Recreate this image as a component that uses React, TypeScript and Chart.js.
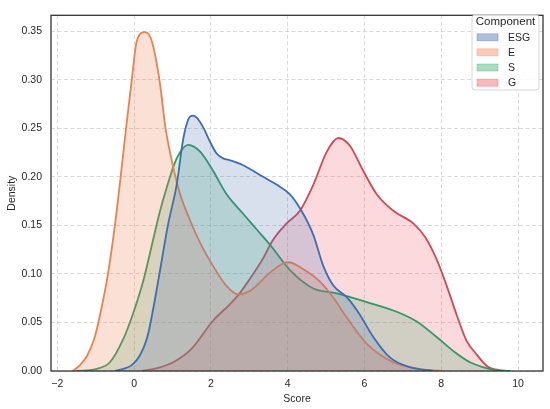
import React, { useEffect, useRef } from "react";
import { Chart, registerables } from "chart.js";

Chart.register(...registerables);

const seriesNames = ["ESG", "E", "S", "G"];

const esgX = [-0.5, -0.3, -0.06, 0.15, 0.33, 0.43, 0.66, 0.88, 1.11, 1.28, 1.41, 1.53, 1.63, 1.8, 1.98, 2.15, 2.32, 2.5, 2.84, 3.36, 3.71, 4.06, 4.36, 4.67, 4.93, 5.19, 5.54, 5.88, 6.23, 6.66, 7.18, 7.8];
const esgY = [0, 0.002, 0.006, 0.016, 0.033, 0.05, 0.1, 0.15, 0.192, 0.239, 0.259, 0.263, 0.261, 0.251, 0.236, 0.224, 0.219, 0.217, 0.212, 0.2, 0.192, 0.182, 0.165, 0.14, 0.108, 0.088, 0.076, 0.058, 0.035, 0.014, 0.004, 0];

const eX = [-1.6, -1.41, -1.22, -1.04, -0.93, -0.68, -0.5, -0.35, -0.21, -0.06, 0.07, 0.28, 0.46, 0.66, 0.82, 1.02, 1.2, 1.46, 1.72, 2.06, 2.4, 2.71, 3.0, 3.19, 3.5, 3.89, 4.02, 4.4, 4.84, 5.2, 5.54, 6.06, 6.75, 7.45, 8.0];
const eY = [0, 0.006, 0.016, 0.033, 0.05, 0.1, 0.15, 0.2, 0.25, 0.3, 0.34, 0.349, 0.34, 0.3, 0.25, 0.21, 0.182, 0.155, 0.132, 0.108, 0.088, 0.079, 0.082, 0.088, 0.1, 0.111, 0.112, 0.105, 0.092, 0.075, 0.055, 0.028, 0.009, 0.002, 0];

const sX = [-1.5, -1.0, -0.63, -0.28, -0.02, 0.24, 0.5, 0.67, 0.85, 1.11, 1.41, 1.72, 2.06, 2.41, 2.84, 3.19, 3.54, 4.06, 4.67, 5.28, 6.06, 6.84, 7.36, 7.88, 8.4, 8.75, 9.4, 9.8];
const sY = [0, 0.002, 0.009, 0.033, 0.06, 0.093, 0.136, 0.164, 0.189, 0.219, 0.233, 0.226, 0.206, 0.182, 0.162, 0.146, 0.13, 0.104, 0.085, 0.08, 0.071, 0.061, 0.051, 0.035, 0.018, 0.009, 0.001, 0];

const gX = [0.2, 0.6, 1.02, 1.5, 2.06, 2.5, 2.75, 2.93, 3.36, 3.6, 3.97, 4.32, 4.67, 5.02, 5.32, 5.62, 5.97, 6.32, 6.75, 7.27, 7.58, 7.88, 8.14, 8.4, 8.66, 8.88, 9.23, 9.7];
const gY = [0, 0.003, 0.009, 0.023, 0.052, 0.069, 0.08, 0.09, 0.116, 0.134, 0.152, 0.165, 0.192, 0.226, 0.24, 0.232, 0.206, 0.182, 0.165, 0.152, 0.138, 0.115, 0.088, 0.058, 0.031, 0.019, 0.004, 0];

const xTicks = [-2, 0, 2, 4, 6, 8, 10];
const yTicks = [0, 0.05, 0.1, 0.15, 0.2, 0.25, 0.3, 0.35];

const lineColors = ["#3d6fb0", "#e8824f", "#2f9b63", "#cf4a52"];
const fillColors = [
  "rgba(76,114,176,0.22)",
  "rgba(240,130,80,0.24)",
  "rgba(70,170,115,0.24)",
  "rgba(240,80,100,0.22)",
];
const legendColors = [
  "rgba(76,114,176,0.45)",
  "rgba(245,130,85,0.42)",
  "rgba(70,175,115,0.45)",
  "rgba(235,85,100,0.42)",
];

const FONT = "'Liberation Sans', Arial, sans-serif";
const TEXT = "#262626";

function pts(xs: number[], ys: number[]) {
  return xs.map((x, i) => ({ x, y: ys[i] }));
}

const framePlugin = {
  id: "frame",
  afterDraw(chart: any) {
    const { ctx, chartArea } = chart;
    ctx.save();
    ctx.strokeStyle = "#333333";
    ctx.lineWidth = 1.3;
    ctx.strokeRect(chartArea.left, chartArea.top, chartArea.right - chartArea.left, chartArea.bottom - chartArea.top);
    ctx.restore();
  },
};

const legendPlugin = {
  id: "customLegend",
  afterDraw(chart: any) {
    const ctx = chart.ctx as CanvasRenderingContext2D;
    const bx = 472, by = 15, bw = 67, bh = 75, r = 3;
    ctx.save();
    ctx.beginPath();
    ctx.moveTo(bx + r, by);
    ctx.lineTo(bx + bw - r, by);
    ctx.arcTo(bx + bw, by, bx + bw, by + r, r);
    ctx.lineTo(bx + bw, by + bh - r);
    ctx.arcTo(bx + bw, by + bh, bx + bw - r, by + bh, r);
    ctx.lineTo(bx + r, by + bh);
    ctx.arcTo(bx, by + bh, bx, by + bh - r, r);
    ctx.lineTo(bx, by + r);
    ctx.arcTo(bx, by, bx + r, by, r);
    ctx.closePath();
    ctx.fillStyle = "rgba(255,255,255,0.85)";
    ctx.fill();
    ctx.strokeStyle = "#d6d6d6";
    ctx.lineWidth = 1;
    ctx.stroke();

    ctx.fillStyle = TEXT;
    ctx.font = `11.5px ${FONT}`;
    ctx.textAlign = "center";
    ctx.textBaseline = "middle";
    ctx.fillText("Component", bx + bw / 2, 22);

    const ys = [37.3, 52.3, 67.5, 82.7];
    ctx.font = `10.5px ${FONT}`;
    ctx.textAlign = "left";
    seriesNames.forEach((name, i) => {
      ctx.fillStyle = legendColors[i];
      ctx.fillRect(477, ys[i] - 3.5, 21, 7);
      ctx.strokeStyle = legendColors[i];
      ctx.lineWidth = 0.8;
      ctx.strokeRect(477, ys[i] - 3.5, 21, 7);
      ctx.fillStyle = TEXT;
      ctx.fillText(name, 508, ys[i] + 0.5);
    });
    ctx.restore();
  },
};

export default function App() {
  const ref = useRef<HTMLCanvasElement | null>(null);

  useEffect(() => {
    if (!ref.current) return;
    const series = [pts(esgX, esgY), pts(eX, eY), pts(sX, sY), pts(gX, gY)];
    const chart = new Chart(ref.current, {
      type: "line",
      data: {
        datasets: series.map((data, i) => ({
          label: seriesNames[i],
          data,
          borderColor: lineColors[i],
          backgroundColor: fillColors[i],
          borderWidth: 1.8,
          fill: "origin",
          pointRadius: 0,
          pointHoverRadius: 0,
          cubicInterpolationMode: "monotone" as const,
          tension: 0.4,
        })),
      },
      options: {
        animation: false,
        responsive: true,
        maintainAspectRatio: false,
        layout: { padding: { top: 7, right: 7, left: 0, bottom: 0 } },
        plugins: {
          legend: { display: false },
          tooltip: { enabled: false },
        },
        scales: {
          x: {
            type: "linear",
            min: -2.164,
            max: 10.65,
            afterFit: (scale: any) => {
              scale.height = 38;
            },
            afterBuildTicks: (scale: any) => {
              scale.ticks = xTicks.map((v) => ({ value: v }));
            },
            ticks: {
              padding: 7,
              color: TEXT,
              font: { family: FONT, size: 10.5 },
              callback: (v: any) => String(v).replace("-", "\u2212"),
            },
            grid: {
              color: "#cfcfcf",
              lineWidth: 0.8,
              drawTicks: false,
            },
            border: { display: false, dash: [4, 2.5] },
            title: {
              display: true,
              text: "Score",
              color: TEXT,
              font: { family: FONT, size: 10.5 },
              padding: { top: 0, bottom: 4 },
            },
          },
          y: {
            type: "linear",
            min: 0,
            max: 0.3664,
            afterFit: (scale: any) => {
              scale.width = 51;
            },
            afterBuildTicks: (scale: any) => {
              scale.ticks = yTicks.map((v) => ({ value: v }));
            },
            ticks: {
              padding: 9,
              color: TEXT,
              font: { family: FONT, size: 10.5 },
              callback: (v: any) => Number(v).toFixed(2),
            },
            grid: {
              color: "#cfcfcf",
              lineWidth: 0.8,
              drawTicks: false,
            },
            border: { display: false, dash: [4, 2.5] },
            title: {
              display: true,
              text: "Density",
              color: TEXT,
              font: { family: FONT, size: 10.5 },
              padding: { top: 6, bottom: 0 },
            },
          },
        },
      },
      plugins: [framePlugin, legendPlugin],
    });
    return () => chart.destroy();
  }, []);

  return (
    <div style={{ position: "fixed", left: 0, top: 0, width: 550, height: 409, background: "#ffffff" }}>
      <canvas ref={ref} />
    </div>
  );
}
